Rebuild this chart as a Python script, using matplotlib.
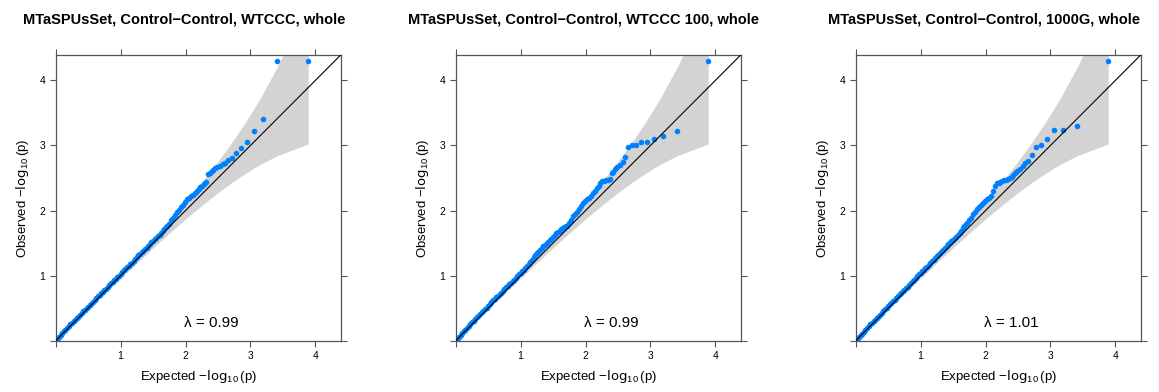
import numpy as np
import matplotlib
matplotlib.use("Agg")
import matplotlib.pyplot as plt

plt.rcParams["font.family"] = ["Liberation Sans", "DejaVu Sans"]

# number of tests (sets the confidence band)
n_tests = 3880

titles = ["MTaSPUsSet, Control\u2212Control, WTCCC, whole",
          "MTaSPUsSet, Control\u2212Control, WTCCC 100, whole",
          "MTaSPUsSet, Control\u2212Control, 1000G, whole"]
lambdas = ["0.99", "0.99", "1.01"]

# expected -log10(p), top ranks first
exp_tail = [3.89, 3.41, 3.19, 3.05, 2.94, 2.85, 2.78, 2.71, 2.66, 2.61,
            2.57, 2.53, 2.49, 2.46, 2.43, 2.40, 2.37, 2.34, 2.32]
exp_mid = [2.29, 2.26, 2.23, 2.20, 2.17, 2.14, 2.11, 2.08, 2.05, 2.02,
           1.99, 1.96, 1.93, 1.90, 1.87, 1.84, 1.81, 1.78, 1.75, 1.72]
exp_bulk = [1.700, 1.675, 1.650, 1.625, 1.600, 1.575, 1.550, 1.525, 1.500, 1.475,
            1.450, 1.425, 1.400, 1.375, 1.350, 1.325, 1.300, 1.275, 1.250, 1.225,
            1.200, 1.175, 1.150, 1.125, 1.100, 1.075, 1.050, 1.025, 1.000, 0.975,
            0.950, 0.925, 0.900, 0.875, 0.850, 0.825, 0.800, 0.775, 0.750, 0.725,
            0.700, 0.675, 0.650, 0.625, 0.600, 0.575, 0.550, 0.525, 0.500, 0.475,
            0.450, 0.425, 0.400, 0.375, 0.350, 0.325, 0.300, 0.275, 0.250, 0.225,
            0.200, 0.175, 0.150, 0.125, 0.100, 0.075, 0.050, 0.030, 0.015, 0.005]

# observed -log10(p), same order (tail, mid, bulk)
obs_wtccc = [4.30, 4.30, 3.40, 3.22, 3.05, 2.96, 2.89, 2.81, 2.78, 2.73,
             2.71, 2.69, 2.67, 2.65, 2.63, 2.60, 2.58, 2.56, 2.44,
             2.41, 2.38, 2.36, 2.33, 2.30, 2.27, 2.24, 2.22, 2.19, 2.17,
             2.13, 2.09, 2.05, 2.01, 1.97, 1.93, 1.89, 1.85, 1.80, 1.76,
             1.74, 1.71, 1.68, 1.66, 1.63, 1.61, 1.58, 1.56, 1.53, 1.51,
             1.48, 1.46, 1.43, 1.41, 1.38, 1.36, 1.33, 1.31, 1.28, 1.25,
             1.23, 1.20, 1.18, 1.15, 1.13, 1.10, 1.08, 1.05, 1.03, 1.00,
             0.98, 0.95, 0.93, 0.90, 0.88, 0.85, 0.83, 0.80, 0.78, 0.75,
             0.73, 0.70, 0.68, 0.65, 0.62, 0.60, 0.57, 0.55, 0.52, 0.50,
             0.47, 0.45, 0.42, 0.40, 0.37, 0.35, 0.32, 0.30, 0.27, 0.25,
             0.22, 0.20, 0.17, 0.15, 0.12, 0.09, 0.06, 0.04, 0.02, 0.01]
obs_wtccc100 = [4.30, 3.22, 3.15, 3.10, 3.06, 3.06, 3.01, 3.00, 2.97, 2.83,
                2.75, 2.70, 2.67, 2.64, 2.59, 2.57, 2.49, 2.47, 2.47,
                2.46, 2.45, 2.42, 2.38, 2.34, 2.30, 2.27, 2.23, 2.20, 2.17,
                2.14, 2.11, 2.07, 2.03, 1.98, 1.94, 1.91, 1.86, 1.81, 1.77,
                1.76, 1.75, 1.73, 1.71, 1.69, 1.67, 1.65, 1.62, 1.60, 1.57,
                1.55, 1.52, 1.50, 1.47, 1.45, 1.42, 1.39, 1.37, 1.34, 1.31,
                1.28, 1.24, 1.21, 1.18, 1.15, 1.12, 1.09, 1.07, 1.04, 1.02,
                0.99, 0.97, 0.94, 0.92, 0.89, 0.87, 0.84, 0.82, 0.79, 0.77,
                0.74, 0.72, 0.69, 0.67, 0.64, 0.62, 0.59, 0.57, 0.54, 0.51,
                0.49, 0.46, 0.44, 0.41, 0.38, 0.36, 0.33, 0.31, 0.28, 0.25,
                0.22, 0.20, 0.17, 0.15, 0.12, 0.09, 0.06, 0.04, 0.02, 0.01]
obs_1000g = [4.30, 3.30, 3.23, 3.23, 3.10, 3.01, 2.97, 2.86, 2.76, 2.73,
             2.68, 2.64, 2.61, 2.57, 2.54, 2.52, 2.50, 2.48, 2.47,
             2.47, 2.46, 2.44, 2.43, 2.42, 2.38, 2.30, 2.23, 2.19, 2.17,
             2.14, 2.11, 2.08, 2.05, 2.02, 1.98, 1.94, 1.89, 1.85, 1.81,
             1.79, 1.76, 1.73, 1.69, 1.66, 1.63, 1.60, 1.58, 1.55, 1.53,
             1.50, 1.48, 1.45, 1.43, 1.40, 1.38, 1.35, 1.32, 1.30, 1.27,
             1.24, 1.22, 1.19, 1.17, 1.14, 1.12, 1.09, 1.07, 1.04, 1.02,
             0.99, 0.96, 0.94, 0.91, 0.88, 0.86, 0.83, 0.81, 0.78, 0.76,
             0.73, 0.71, 0.68, 0.66, 0.63, 0.61, 0.58, 0.56, 0.53, 0.51,
             0.48, 0.46, 0.43, 0.40, 0.37, 0.35, 0.32, 0.30, 0.27, 0.25,
             0.22, 0.20, 0.17, 0.14, 0.11, 0.09, 0.06, 0.04, 0.02, 0.01]
observed = [obs_wtccc, obs_wtccc100, obs_1000g]
expected = exp_tail + exp_mid + exp_bulk


def order_stat_quantile(k, n, q):
    # p such that P(U_(k) <= p) = q, via binomial tail, bisection on log10 p
    logfact = np.concatenate([[0.0], np.cumsum(np.log(np.arange(1, n + 1)))])
    j = np.arange(n + 1)
    mask = j[None, :] < k[:, None]
    lo = np.full(k.shape, -10.0)
    hi = np.full(k.shape, -1e-8)
    for _ in range(45):
        mid = (lo + hi) / 2
        p = 10 ** mid
        lp = (logfact[n] - logfact[j] - logfact[n - j])[None, :] \
            + j[None, :] * np.log(p)[:, None] + (n - j)[None, :] * np.log1p(-p)[:, None]
        cdf = (np.exp(lp) * mask).sum(axis=1)
        over = (1 - cdf) > q
        hi = np.where(over, mid, hi)
        lo = np.where(over, lo, mid)
    return 10 ** ((lo + hi) / 2)


ranks = np.unique(np.round(np.logspace(0, np.log10(n_tests), 160)).astype(int))
band_x = -np.log10((ranks - 0.5) / n_tests)
band_hi = -np.log10(order_stat_quantile(ranks, n_tests, 0.025))
band_lo = -np.log10(order_stat_quantile(ranks, n_tests, 0.975))
order = np.argsort(band_x)
band_x, band_hi, band_lo = band_x[order], band_hi[order], band_lo[order]

lim = 4.39
fig = plt.figure(figsize=(11.59, 3.92), dpi=100)
W, H = 1159, 392
edge = "#555555"

for i in range(3):
    x0 = 55.7 + 400 * i
    ax = fig.add_axes([x0 / W, (H - 340.7) / H, 285 / W, 285.7 / H])
    ax.fill_between(band_x, band_lo, band_hi, color="#d3d3d3", lw=0, zorder=1)
    ax.scatter(expected, observed[i], s=16, color="#0080ff", lw=0, zorder=2)
    ax.plot([0, lim], [0, lim], color="black", lw=0.8, zorder=3)
    ax.set_xlim(0, lim)
    ax.set_ylim(0, lim)
    ax.set_xticks([0, 1, 2, 3, 4])
    ax.set_yticks([0, 1, 2, 3, 4])
    ax.set_xticklabels(["", "1", "2", "3", "4"])
    ax.set_yticklabels(["", "1", "2", "3", "4"])
    ax.tick_params(direction="out", length=4.5, width=0.8, color=edge,
                   labelsize=7.5, top=True, right=True, pad=3)
    for s in ax.spines.values():
        s.set_color(edge)
        s.set_linewidth(0.9)
    ax.set_xlabel(r"Expected $\mathregular{-\log_{10}(p)}$", fontsize=9.5, labelpad=5)
    ax.set_ylabel(r"Observed $\mathregular{-\log_{10}(p)}$", fontsize=9.5, labelpad=6)
    ax.text(2.4, 0.27, "\u03bb = " + lambdas[i], fontsize=11, ha="center", va="center")
    fig.text((184 + 400 * i) / W, 1 - 20 / H, titles[i], fontsize=10.5,
             fontweight="bold", ha="center", va="center")

fig.savefig("out.png", dpi=100)
